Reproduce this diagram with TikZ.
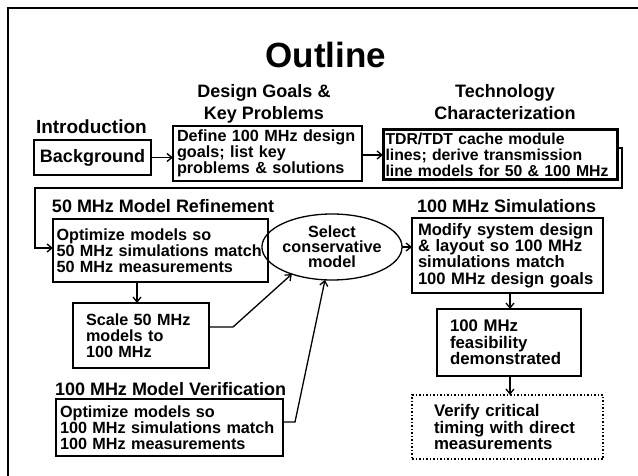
\documentclass[tikz,border=0pt]{standalone}
\usepackage{fontspec}
\setmainfont{Liberation Sans}
\usetikzlibrary{arrows.meta,shapes.geometric,calc}

\begin{document}
\begin{tikzpicture}[x=1pt,y=-1pt,
  line width=1.3pt,
  every node/.style={inner sep=0pt, outer sep=0pt},
  body/.style={font=\fontsize{16.2}{16.2}\selectfont\bfseries},
  head/.style={font=\fontsize{18}{20}\selectfont\bfseries},
  titlefont/.style={font=\fontsize{35}{38}\selectfont\bfseries},
  box/.style={draw, body, align=left, inner ysep=0pt},
  arr/.style={-{Straight Barb[length=5pt,width=8pt]}},
]
\useasboundingbox (0,0) rectangle (638,476);

% page frame (open towards the right and bottom)
\draw[line width=1.5pt] (638,8) -- (8,8) -- (8,476);

% titles and section headings
\node[titlefont, anchor=base] (title) at (326,68) {Outline};
\node[head, anchor=base] (hdDesA) at (264,98) {Design Goals \&};
\node[head, anchor=base] (hdDesB) at (264,120) {Key Problems};
\node[head, anchor=base] (hdTecA) at (505,98) {Technology};
\node[head, anchor=base] (hdTecB) at (505,120) {Characterization};
\node[head, font=\fontsize{19}{20}\selectfont\bfseries, anchor=base west] (hdIntro) at (36,134) {Introduction};
\node[head, anchor=base west] (hdRef) at (52,213) {50 MHz Model Refinement};
\node[head, anchor=base west] (hdSim) at (417,213) {100 MHz Simulations};
\node[head, anchor=base west] (hdVer) at (55,395) {100 MHz Model Verification};

% process boxes
\node[draw, head, minimum width=117, minimum height=35] (bg) at (92.5,157.5) {Background};
\node[box, minimum width=189, minimum height=55, text width=181, inner xsep=4] (def) at (267.5,153.5)
  {Define 100 MHz design\\goals; list key\\problems \& solutions};
\node[box, line width=3pt, font=\fontsize{15.8}{16}\selectfont\bfseries,
  minimum width=234, minimum height=50, text width=229, inner xsep=2.5] (tech) at (500,155)
  {TDR/TDT cache module\\lines; derive transmission\\line models for 50 \& 100 MHz};
\node[box, minimum width=215, minimum height=63, text width=208, inner xsep=3.5] (ref50) at (160.5,250.5)
  {Optimize models so\\50 MHz simulations match\\50 MHz measurements};
\node[box, minimum width=136, minimum height=65, text width=110, inner xsep=13] (scale) at (141,335.5)
  {Scale 50 MHz\\models to\\100 MHz};
\node[box, minimum width=227, minimum height=57, text width=219, inner xsep=4] (ver) at (169.5,427.5)
  {Optimize models so\\100 MHz simulations match\\100 MHz measurements};
\node[draw, ellipse, body, align=center, minimum width=115, minimum height=66,
  font=\fontsize{16.2}{15}\selectfont\bfseries] (sel) at (332,247)
  {Select\\conservative\\model};
\node[box, font=\fontsize{16.6}{16.2}\selectfont\bfseries,
  minimum width=191, minimum height=75, text width=179, inner xsep=6] (sim) at (507.5,255.5)
  {Modify system design\\\& layout so 100 MHz\\simulations match\\100 MHz design goals};
\node[box, font=\fontsize{16.8}{16.5}\selectfont\bfseries,
  minimum width=144, minimum height=67, text width=118, inner xsep=13] (feas) at (509,342.5)
  {100 MHz\\feasibility\\demonstrated};
\node[box, font=\fontsize{16.8}{16.5}\selectfont\bfseries,
  dash pattern=on 1.5pt off 2pt, line width=1.5pt, minimum width=191, minimum height=64,
  text width=147, inner xsep=22] (verify) at (507.5,427)
  {Verify critical\\timing with direct\\measurements};

% connector corner points
\coordinate (trA) at (622,148);
\coordinate (trB) at (622,188);
\coordinate (trC) at (35,188);
\coordinate (trD) at (35,248);
\coordinate (colA) at (137,0);
\coordinate (colB) at (510,0);
\coordinate (scA) at (233,327);
\coordinate (vrA) at (295,422);

% connectors
\draw[arr] (bg.east) -- (bg.east -| def.west);
\draw[arr] (tech.west -| def.east) -- (tech.west);
\draw[arr] (trA -| tech.east) -- (trA) -- (trB) -- (trC) -- (trD) -- (trD -| ref50.west);
\draw[arr] (ref50.south -| colA) -- (scale.north -| colA);
\draw[arr] (scA -| scale.east) -- (scA) -- (sel.214);
\draw[arr] (vrA -| ver.east) -- (vrA) -- (sel.258);
\draw[arr] (sel.east) -- (sel.east -| sim.west);
\draw[arr] (sim.south -| colB) -- (feas.north -| colB);
\draw[arr] (feas.south -| colB) -- (verify.north -| colB);
\end{tikzpicture}
\end{document}
